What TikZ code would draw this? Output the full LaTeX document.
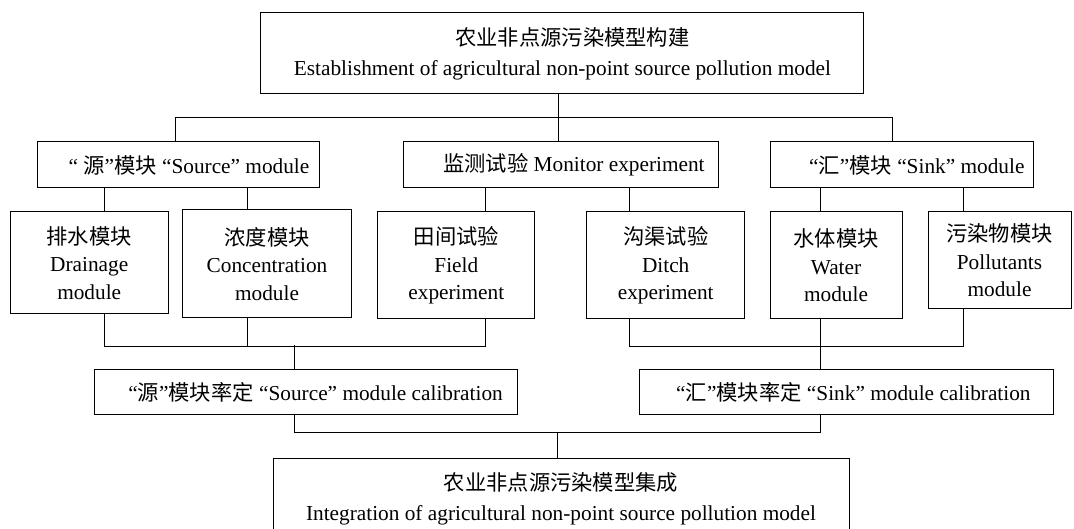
\documentclass[tikz,border=0pt]{standalone}
\usepackage{fontspec}
\setmainfont{Liberation Serif}
\newfontfamily\cjk{Noto Sans CJK SC}

\begin{document}
\begin{tikzpicture}[x=1pt,y=-1pt,line width=1pt,
  box/.style={draw,black,inner sep=0pt,align=center,font=\fontsize{21.3}{30}\selectfont},
  subbox/.style={box,font=\fontsize{21.3}{27.5}\selectfont}]
\useasboundingbox (0,0) rectangle (1074,529);
% top level
\node [box,minimum width=603,minimum height=81] (build) at (562.4,53.5)
  {\hspace*{20pt}{\cjk 农业非点源污染模型构建}\\Establishment of agricultural non-point source pollution model};
% second row
\node [box,minimum width=282,minimum height=46] (source) at (178,165)
  {\hspace*{22pt}“ {\cjk 源}”{\cjk 模块} “Source” module};
\node [box,minimum width=315,minimum height=46] (monitor) at (560.9,165)
  {\hspace*{26pt}{\cjk 监测试验} Monitor experiment};
\node [box,minimum width=263,minimum height=46] (sink) at (901.8,165)
  {\hspace*{30pt}“{\cjk 汇}”{\cjk 模块} “Sink” module};
% third row
\node [subbox,minimum width=158,minimum height=102] (drainage) at (89.2,263)
  {{\cjk 排水模块}\\Drainage\\module};
\node [subbox,minimum width=169,minimum height=108] (conc) at (267,264)
  {{\cjk 浓度模块}\\Concentration\\module};
\node [subbox,minimum width=157,minimum height=107] (field) at (456.3,265.5)
  {{\cjk 田间试验}\\Field\\experiment};
\node [subbox,minimum width=158,minimum height=107] (ditch) at (665.7,265.5)
  {{\cjk 沟渠试验}\\Ditch\\experiment};
\node [subbox,minimum width=132,minimum height=107] (water) at (836,265.5)
  {{\cjk 水体模块}\\Water\\module};
\node [subbox,minimum width=143,minimum height=97] (pollut) at (999.5,260.5)
  {{\cjk 污染物模块}\\Pollutants\\module};
% calibration
\node [box,minimum width=423,minimum height=44] (srccal) at (305.6,392)
  {\hspace*{20pt}“{\cjk 源}”{\cjk 模块率定} “Source” module calibration};
\node [box,minimum width=414,minimum height=44] (sinkcal) at (846.4,392)
  {\hspace*{14pt}“{\cjk 汇}”{\cjk 模块率定} “Sink” module calibration};
% integration
\node [box,minimum width=576,minimum height=82] (integ) at (561,499)
  {{\cjk 农业非点源污染模型集成}\\Integration of agricultural non-point source pollution model};

% top to second row
\draw ([xshift=-4.4]build.south) -- ([xshift=-2.9]monitor.north);
\draw ([xshift=-3]source.north) -- ++(0,-24) -| ([xshift=-9.8]sink.north);
% second row to third row
\draw ([xshift=-74]source.south) -- ([xshift=-74]source.south |- drainage.north);
\draw ([xshift=69]source.south) -- ([xshift=69]source.south |- conc.north);
\draw ([xshift=-75]monitor.south) -- ([xshift=-75]monitor.south |- field.north);
\draw ([xshift=69]monitor.south) -- ([xshift=69]monitor.south |- ditch.north);
\draw ([xshift=-81.5]sink.south) -- ([xshift=-81.5]sink.south |- water.north);
\draw ([xshift=62]sink.south) -- ([xshift=62]sink.south |- pollut.north);
% third row to calibration
\draw ([xshift=15]drainage.south) -- ++(0,32) -| ([xshift=29.6]field.south);
\draw ([xshift=-20]conc.south) -- ++(0,28);
\draw ([xshift=-10.8]srccal.north) -- ++(0,-24);
\draw ([xshift=-36]ditch.south) -- ++(0,27) -| ([xshift=-35.7]pollut.south);
\draw ([xshift=-16]water.south) -- ([xshift=-26.4]sinkcal.north);
% calibration to integration
\draw ([xshift=-10.8]srccal.south) -- ++(0,18) -| ([xshift=-26.4]sinkcal.south);
\draw ([xshift=-3.2]integ.north) -- ++(0,-26);
\end{tikzpicture}
\end{document}
